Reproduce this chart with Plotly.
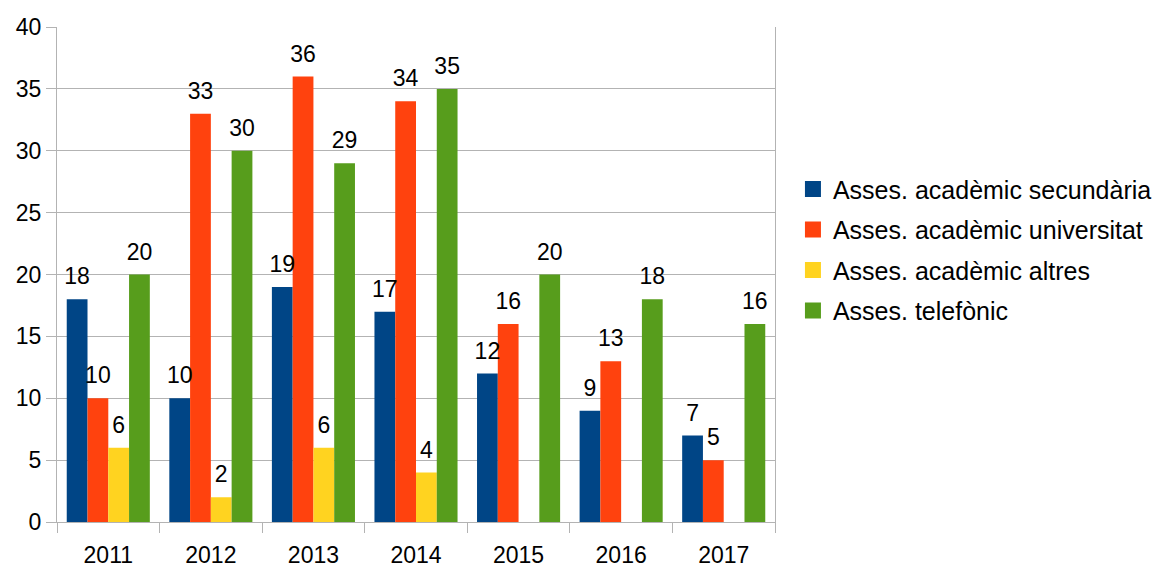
import plotly.graph_objects as go

years = ["2011", "2012", "2013", "2014", "2015", "2016", "2017"]
secundaria = [18, 10, 19, 17, 12, 9, 7]
universitat = [10, 33, 36, 34, 16, 13, 5]
altres = [6, 2, 6, 4, None, None, None]
telefonic = [20, 30, 29, 35, 20, 18, 16]

names = ["Asses. acadèmic secundària", "Asses. acadèmic universitat",
         "Asses. acadèmic altres", "Asses. telefònic"]
colors = ["#004586", "#ff420e", "#ffd320", "#579d1c"]
series = [secundaria, universitat, altres, telefonic]

FONT = "Liberation Sans, Arial, sans-serif"
fig = go.Figure()
for i, (name, col, vals) in enumerate(zip(names, colors, series)):
    fig.add_trace(go.Bar(
        x=years, y=vals, name=name, marker=dict(color=col, line=dict(width=0)),
        offsetgroup=f"g{i}", showlegend=False, hoverinfo="skip",
    ))
# value labels: grouped scatter traces placed at the same slots as the bars
for i, (name, vals) in enumerate(zip(names, series)):
    fig.add_trace(go.Scatter(
        x=years, y=vals, mode="markers+text", name=name,
        text=[("" if v is None else str(v)) for v in vals],
        textposition="top center",
        textfont=dict(size=23, color="black", family=FONT),
        marker=dict(size=13, color="rgba(0,0,0,0)"),
        offsetgroup=f"g{i}", cliponaxis=False, showlegend=False,
    ))
for i, (name, col) in enumerate(zip(names, colors)):
    fig.add_trace(go.Scatter(
        x=[None], y=[None], mode="markers", name=name, legendgroup=name,
        offsetgroup=f"g{i}",
        marker=dict(symbol="square", size=16, color=col),
    ))

fig.update_layout(
    width=1169, height=570,
    margin=dict(l=57, r=394, t=27, b=48, autoexpand=False),
    paper_bgcolor="white", plot_bgcolor="white",
    font=dict(family=FONT, size=23, color="black"),
    barmode="group", bargap=0.19, bargroupgap=0,
    scattermode="group", scattergap=0.19,
    legend=dict(x=1.025, xanchor="left", y=0.55, yanchor="middle",
                font=dict(size=25), tracegroupgap=5, itemwidth=30),
    xaxis=dict(type="category", tickson="boundaries", ticks="outside", ticklen=10,
               tickcolor="#b3b3b3", showline=True, linecolor="#b3b3b3",
               showgrid=False, tickfont=dict(size=23), ticklabelstandoff=12,
               automargin=False),
    yaxis=dict(range=[0, 40], dtick=5, ticks="outside", ticklen=10,
               tickcolor="#b3b3b3", showline=True, linecolor="#b3b3b3",
               mirror=True, showgrid=True, gridcolor="#b3b3b3",
               zeroline=False, tickfont=dict(size=23), automargin=False),
)
fig.write_html("out.html")
